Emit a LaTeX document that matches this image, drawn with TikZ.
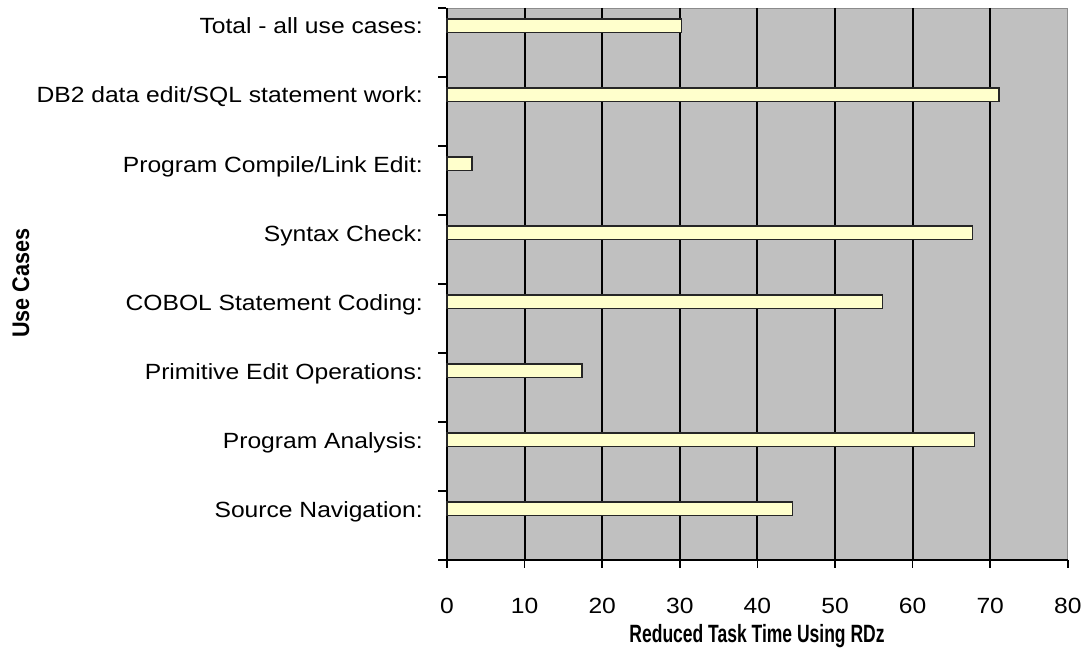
\documentclass[tikz,border=0pt]{standalone}
\usepackage{fontspec}
\setmainfont{Liberation Sans}[FakeStretch=1.12]
\newfontfamily\titlefont{Liberation Sans}[FakeStretch=0.9]
\newfontfamily\xtitlefont{Liberation Sans}[FakeStretch=0.7]
\definecolor{plotgray}{HTML}{C0C0C0}
\definecolor{barfill}{HTML}{FFFFCC}
\definecolor{edgegray}{HTML}{8C8C8C}
\tikzset{
  gridline/.style={black, line width=2pt},
  axisline/.style={black, line width=2pt},
  tickline/.style={black, line width=1.6pt},
  barbox/.style={fill=barfill, draw=black!85, line width=1.6pt},
  catlabel/.style={anchor=base east, inner sep=0pt, font=\fontsize{22}{26}\selectfont},
  ticklabel/.style={anchor=base, inner sep=0pt, font=\fontsize{22}{26}\selectfont},
  axtitle/.style={inner sep=0pt, font=\titlefont\bfseries\fontsize{24}{28}\selectfont},
  xaxtitle/.style={inner sep=0pt, font=\xtitlefont\bfseries\fontsize{25}{29}\selectfont},
}
\begin{document}
\begin{tikzpicture}[x=1pt,y=-1pt]
\fill[white] (0,0) rectangle (1081,650);
\useasboundingbox (0,0) rectangle (1081,650);
% plot area
\node[draw=edgegray, fill=plotgray, line width=1.2pt, minimum width=620pt, minimum height=552pt, inner sep=0pt, anchor=north west] (plot) at (447,8) {};
% gridlines
\foreach \k in {1,...,7} {
  \draw[gridline] (447+77.6*\k,8) -- (447+77.6*\k,560);
}
% axes
\coordinate (origin) at (447,560);
\coordinate (ytop) at (447,8);
\coordinate (xend) at (1068,560);
\draw[axisline] (ytop) -- (origin) -- (xend);
% x ticks and labels
\foreach \k [evaluate=\k as \v using int(10*\k)] in {0,...,8} {
  \draw[tickline] (447+77.6*\k,560) -- (447+77.6*\k,568);
  \node[ticklabel] (xl\k) at (447+77.6*\k,613) {\v};
}
% y ticks
\foreach \k in {0,...,8} {
  \draw[tickline] (438,8+69*\k) -- (446,8+69*\k);
}
% bars and labels
\foreach \v/\lab [count=\i from 0] in {
  30.2/{Total - all use cases:},
  71.1/{DB2 data edit/SQL statement work:},
  3.2/{Program Compile/Link Edit:},
  67.7/{Syntax Check:},
  56.1/{COBOL Statement Coding:},
  17.4/{Primitive Edit Operations:},
  68.0/{Program Analysis:},
  44.5/{Source Navigation:}} {
  \draw[barbox] (447,8+69*\i+11) rectangle (447+7.76*\v,8+69*\i+24.5);
  \node[catlabel] (cl\i) at (423,8+69*\i+26) {\lab};
}
% axis titles
\node[xaxtitle, anchor=base] (xtitle) at (757,642) {Reduced Task Time Using RDz};
\node[axtitle, anchor=base, rotate=90] (ytitle) at (29,283) {Use Cases};
\end{tikzpicture}
\end{document}
